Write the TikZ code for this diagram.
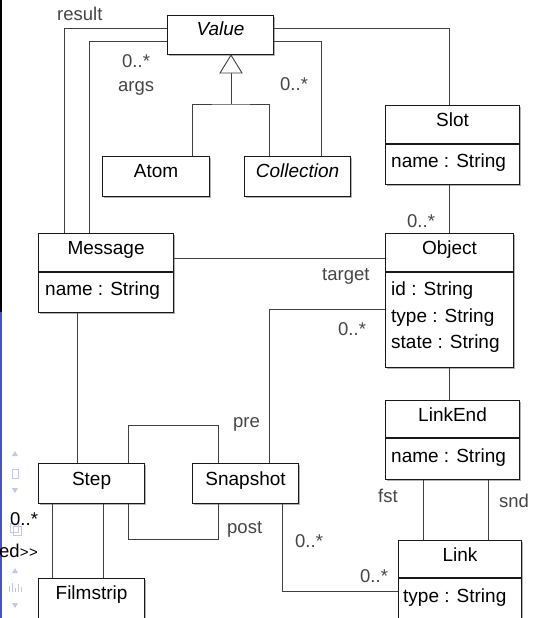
\documentclass[tikz,border=0pt]{standalone}
\usepackage{fontspec}
\setmainfont{Liberation Sans}
\usetikzlibrary{shadows}

\definecolor{linegray}{RGB}{64,64,64}
\definecolor{labelgray}{RGB}{70,70,70}
\definecolor{barblue}{RGB}{72,82,200}
\definecolor{uiblue}{RGB}{196,199,236}

\tikzset{
  cls/.style={draw=black!90, line width=1.1pt, fill=white, rectangle,
    inner sep=0pt, anchor=north west,
    drop shadow={shadow xshift=1.2pt, shadow yshift=-1.2pt, opacity=0.3, fill=black}},
  conn/.style={draw=linegray, line width=0.9pt},
  divider/.style={draw=black!90, line width=1.1pt},
  ttl/.style={anchor=base, inner sep=0pt, font=\fontsize{19}{22}\selectfont, text=black},
  attr/.style={anchor=base west, inner sep=0pt, font=\fontsize{19}{22}\selectfont, text=black},
  lbl/.style={anchor=base west, inner sep=0pt, font=\fontsize{18.5}{22}\selectfont, text=labelgray},
  uimark/.style={fill=uiblue, draw=none},
  uiline/.style={draw=uiblue, line width=0.8pt},
}

\begin{document}
\begin{tikzpicture}[x=1pt,y=-1pt]
\useasboundingbox (0,0) rectangle (536,618);
\begin{scope}
\clip (0,0) rectangle (536,618);
\fill[white] (0,0) rectangle (536,618);

% window edge
\fill[black] (0,0) rectangle (2,312);
\fill[barblue] (0,312) rectangle (2,618);

% class boxes
\node[cls, minimum width=106pt, minimum height=39pt]  (value)      at (167,15)  {};
\node[cls, minimum width=107pt, minimum height=40pt]  (atom)       at (102,156) {};
\node[cls, minimum width=106pt, minimum height=40pt]  (collection) at (244,156) {};
\node[cls, minimum width=134pt, minimum height=79pt]  (slot)       at (385,105) {};
\node[cls, minimum width=135pt, minimum height=79pt]  (message)    at (38,233)  {};
\node[cls, minimum width=128pt, minimum height=134pt] (object)     at (385,233) {};
\node[cls, minimum width=134pt, minimum height=79pt]  (linkend)    at (385,400) {};
\node[cls, minimum width=106pt, minimum height=40pt]  (step)       at (38,463)  {};
\node[cls, minimum width=106pt, minimum height=40pt]  (snapshot)   at (192,463) {};
\node[cls, minimum width=123pt, minimum height=100pt] (link)       at (398,540) {};
\node[cls, minimum width=106pt, minimum height=80pt]  (filmstrip)  at (38,578)  {};

% compartment dividers
\draw[divider] (slot.west |- 0,144)    -- (slot.east |- 0,144);
\draw[divider] (message.west |- 0,272) -- (message.east |- 0,272);
\draw[divider] (object.west |- 0,272)  -- (object.east |- 0,272);
\draw[divider] (linkend.west |- 0,438) -- (linkend.east |- 0,438);
\draw[divider] (link.west |- 0,578)    -- (link.east |- 0,578);

% class names
\node[ttl] (valueT)      at (value.north |- 0,36)      {\itshape Value};
\node[ttl] (atomT)       at (atom.north |- 0,177)      {Atom};
\node[ttl] (collectionT) at (collection.north |- 0,177) {\itshape Collection};
\node[ttl] (slotT)       at (slot.north |- 0,126)      {Slot};
\node[ttl] (messageT)    at (message.north |- 0,254)   {Message};
\node[ttl] (objectT)     at (object.north |- 0,254)    {Object};
\node[ttl] (linkendT)    at (linkend.north |- 0,421)   {LinkEnd};
\node[ttl] (stepT)       at (step.north |- 0,485)      {Step};
\node[ttl] (snapshotT)   at (snapshot.north |- 0,485)  {Snapshot};
\node[ttl] (linkT)       at (link.north |- 0,561)      {Link};
\node[ttl] (filmstripT)  at (filmstrip.north |- 0,599) {Filmstrip};

% attributes
\node[attr] (slotA)    at (391,167) {name : String};
\node[attr] (messageA) at (45,295)  {name : String};
\node[attr] (objectA1) at (391,295) {id : String};
\node[attr] (objectA2) at (391,322) {type : String};
\node[attr] (objectA3) at (391,348) {state : String};
\node[attr] (linkendA) at (391,462) {name : String};
\node[attr] (linkA)    at (403,602) {type : String};

% associations
\draw[conn] (message.north -| 64,0) |- (value.west |- 0,28);
\draw[conn] (message.north -| 89,0) |- (value.west |- 0,41);
\draw[conn] (value.east |- 0,28) -| (slot.north -| 449,0);
\draw[conn] (value.east |- 0,41) -| (collection.north -| 321,0);
\draw[conn] (slot.south -| 449,0) -- (object.north -| 449,0);
\draw[conn] (message.east |- 0,258) -- (object.west |- 0,258);
\draw[conn] (object.west |- 0,309) -| (snapshot.north -| 269,0);
\draw[conn] (object.south -| 449,0) -- (linkend.north -| 449,0);
\draw[conn] (message.south -| 77,0) -- (step.north -| 77,0);
\draw[conn] (step.north -| 128,0) -- (128,425) -- (218,425) -- (snapshot.north -| 218,0);
\draw[conn] (step.south -| 128,0) -- (128,539) -- (218,539) -- (snapshot.south -| 218,0);
\draw[conn] (snapshot.south -| 282,0) |- (link.west |- 0,591);
\draw[conn] (linkend.south -| 423,0) -- (link.north -| 423,0);
\draw[conn] (linkend.south -| 488,0) -- (link.north -| 488,0);
\draw[conn] (step.south -| 52,0) -- (filmstrip.north -| 52,0);
\draw[conn] (step.south -| 103,0) -- (filmstrip.north -| 103,0);

% generalization of Atom and Collection into Value
\coordinate (tip)  at (value.south -| 231,0);
\coordinate (triB) at (231,73);
\coordinate (genJ) at (231,104);
\draw[conn] (triB) -- (genJ);
\draw[conn] (atom.north -| 192,0) |- (genJ) -| (collection.north -| 269,0);
\draw[conn, fill=white] (tip) -- (220,73) -- (242,73) -- cycle;

% role names and multiplicities
\node[lbl] (lresult) at (57,21)  {result};
\node[lbl] (largsm)  at (122,67) {0..*};
\node[lbl] (largs)   at (118,92) {args};
\node[lbl] (lcollm)  at (280,90) {0..*};
\node[lbl] (lslotm)  at (407,227) {0..*};
\node[lbl] (ltarget) at (322,280) {target};
\node[lbl] (lsnapm)  at (338,335) {0..*};
\node[lbl] (lpre)    at (233,427) {pre};
\node[lbl] (lpost)   at (227,533) {post};
\node[lbl] (lfst)    at (378,502) {fst};
\node[lbl] (lsnd)    at (499,507) {snd};
\node[lbl] (llinkm1) at (295,547) {0..*};
\node[lbl] (llinkm2) at (360,582) {0..*};

% side panel controls
\fill[uimark] (12,456) -- (18,456) -- (15,451) -- cycle;
\draw[uiline] (12.5,469) rectangle (18,478);
\fill[uimark] (12,488) -- (18,488) -- (15,493) -- cycle;
\draw[uiline] (10,523) rectangle (18,532);
\draw[uiline] (13,526) rectangle (21,535);
\fill[uimark] (12,573) -- (18,573) -- (15,568) -- cycle;
\draw[uiline] (9,586) -- (9,592) (12,583) -- (12,592) (15,588) -- (15,592) (18,584) -- (18,592) (21,587) -- (21,592);
\fill[uimark] (12,603) -- (18,603) -- (15,608) -- cycle;

\node[lbl, text=black] (lfilm)   at (10,525) {0..*};
\node[lbl, text=black] (lstereo) at (-1,557) {ed{\fontsize{15}{18}\selectfont>\kern0.5pt>}};
\end{scope}
\end{tikzpicture}
\end{document}
